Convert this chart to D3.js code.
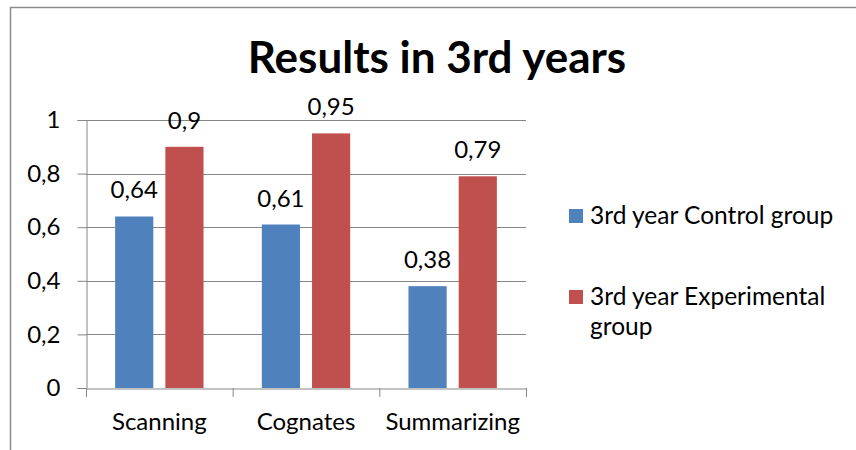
<!DOCTYPE html>
<html>
<head>
<meta charset="utf-8">
<script src="https://cdn.jsdelivr.net/npm/d3@7"></script>
<style>
  body { margin: 0; background: #fff; }
  text { font-family: Lato, "Open Sans", sans-serif; fill: #000; }
</style>
</head>
<body>
<div id="chart"></div>
<script>
// chart data
var categories = ["Scanning", "Cognates", "Summarizing"];
var seriesNames = ["3rd year Control group", "3rd year Experimental group"];
var controlValues = [0.64, 0.61, 0.38];
var experimentalValues = [0.9, 0.95, 0.79];
var yTicks = [0, 0.2, 0.4, 0.6, 0.8, 1];
var colors = ["#4f81bd", "#c0504d"];

var width = 856, height = 450;
var margin = {top: 120, left: 86, right: 330, bottom: 62};

var svg = d3.select("#chart").append("svg")
    .attr("width", width)
    .attr("height", height);

// outer frame
svg.append("rect")
    .attr("x", 10.5).attr("y", 7.5)
    .attr("width", 860).attr("height", 460)
    .attr("fill", "none")
    .attr("stroke", "#8c8c8c")
    .attr("stroke-width", 1.5);

var comma = d3.formatLocale({decimal: ",", thousands: ".", grouping: [3], currency: ["", ""]});
var fmt = function(v){ return comma.format("")(v); };

var x = d3.scaleBand()
    .domain(categories)
    .range([margin.left, width - margin.right]);

var xInner = d3.scaleBand()
    .domain([0, 1])
    .range([0, x.bandwidth()])
    .paddingInner(0.24)
    .paddingOuter(0.58);

var y = d3.scaleLinear()
    .domain([0, 1])
    .range([height - margin.bottom, margin.top]);

// gridlines
svg.append("g").selectAll("line")
    .data(yTicks.slice(1))
    .enter().append("line")
    .attr("x1", margin.left).attr("x2", width - margin.right)
    .attr("y1", function(d){ return Math.round(y(d)) + 0.5; })
    .attr("y2", function(d){ return Math.round(y(d)) + 0.5; })
    .attr("stroke", "#868686")
    .attr("stroke-width", 1);

// y axis
var yAxis = svg.append("g")
    .attr("transform", "translate(" + (margin.left + 0.5) + ",0)")
    .call(d3.axisLeft(y).tickValues(yTicks).tickSize(9).tickPadding(17).tickFormat(fmt));
yAxis.selectAll("line, path").attr("stroke", "#868686");
yAxis.selectAll("text").style("font-size", "24px").style("font-family", "Lato, sans-serif");

var groups = [controlValues, experimentalValues];

var cat = svg.append("g").selectAll("g")
    .data(categories)
    .enter().append("g")
    .attr("transform", function(d){ return "translate(" + x(d) + ",0)"; });

cat.selectAll("rect")
    .data(function(d, i){ return groups.map(function(g, s){ return {s: s, v: g[i]}; }); })
    .enter().append("rect")
    .attr("x", function(d){ return xInner(d.s); })
    .attr("width", xInner.bandwidth())
    .attr("y", function(d){ return y(d.v); })
    .attr("height", function(d){ return y(0) - y(d.v); })
    .attr("fill", function(d){ return colors[d.s]; });

cat.selectAll("text.lbl")
    .data(function(d, i){ return groups.map(function(g, s){ return {s: s, v: g[i]}; }); })
    .enter().append("text")
    .attr("class", "lbl")
    .attr("x", function(d){ return xInner(d.s) + xInner.bandwidth() / 2; })
    .attr("y", function(d){ return y(d.v) - 18; })
    .attr("text-anchor", "middle")
    .style("font-size", "24px")
    .text(function(d){ return fmt(d.v); });

// x axis
var xAxis = svg.append("g")
    .attr("transform", "translate(0," + (y(0) + 0.5) + ")")
    .call(d3.axisBottom(x).tickSize(0).tickPadding(24));
xAxis.select("path").attr("stroke", "#868686");
xAxis.selectAll("text").style("font-size", "24px").style("font-family", "Lato, sans-serif");
svg.append("g").selectAll("line")
    .data(categories.concat(["end"]))
    .enter().append("line")
    .attr("x1", function(d, i){ return margin.left + i * x.step() + 0.5; })
    .attr("x2", function(d, i){ return margin.left + i * x.step() + 0.5; })
    .attr("y1", y(0)).attr("y2", y(0) + 9)
    .attr("stroke", "#868686");

// title
svg.append("text")
    .attr("x", 437).attr("y", 73)
    .attr("text-anchor", "middle")
    .style("font-size", "44px")
    .style("font-weight", "bold")
    .text("Results in 3rd years");

// legend
var legend = svg.append("g");
var legendY = [216, 297];
legend.selectAll("rect")
    .data(seriesNames)
    .enter().append("rect")
    .attr("x", 569)
    .attr("y", function(d, i){ return legendY[i] - 7; })
    .attr("width", 14).attr("height", 14)
    .attr("fill", function(d, i){ return colors[i]; });

var legendLines = [["3rd year Control group"], ["3rd year Experimental", "group"]];
legend.selectAll("text")
    .data(legendLines)
    .enter().append("text")
    .attr("x", 590)
    .attr("y", function(d, i){ return legendY[i] + 8; })
    .style("font-size", "24.5px")
    .each(function(lines){
        var t = d3.select(this);
        lines.forEach(function(l, j){
            t.append("tspan").attr("x", 590).attr("dy", j ? 30 : 0).text(l);
        });
    });
</script>
</body>
</html>
